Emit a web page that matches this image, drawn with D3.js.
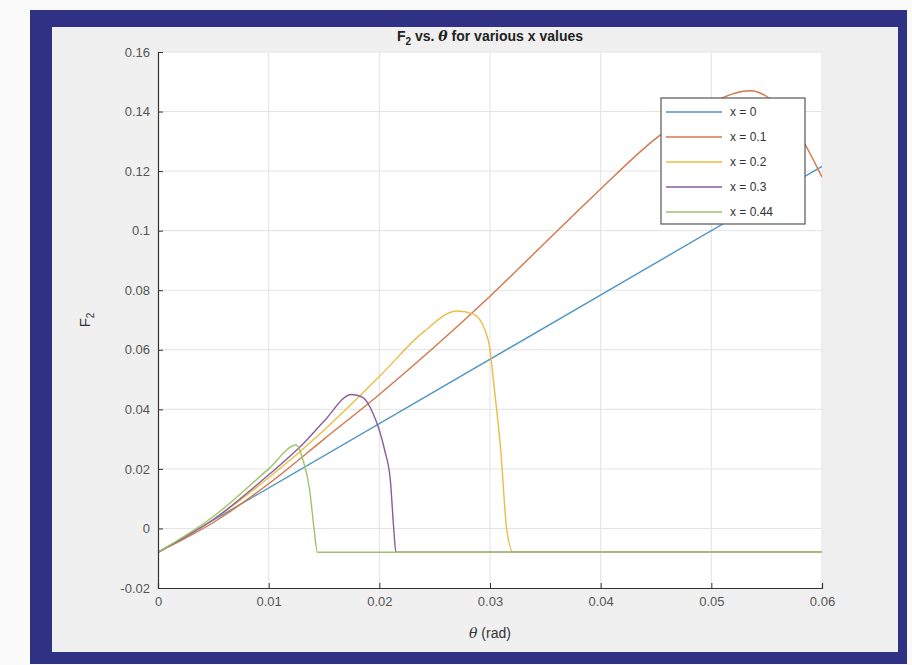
<!DOCTYPE html>
<html><head><meta charset="utf-8">
<script src="https://cdn.jsdelivr.net/npm/d3@7"></script>
<style>body{margin:0;background:#fafafa}svg{display:block;font-family:"Liberation Sans",Arial,sans-serif}</style>
</head><body><svg id="c" width="912" height="665"></svg>
<script>
// ---- data ----
const xTicks = [0, 0.01, 0.02, 0.03, 0.04, 0.05, 0.06];
const yTicks = [-0.02, 0, 0.02, 0.04, 0.06, 0.08, 0.1, 0.12, 0.14, 0.16];
const seriesNames = ["x = 0", "x = 0.1", "x = 0.2", "x = 0.3", "x = 0.44"];
const seriesColors = ["#4f95c4", "#d4764c", "#ebbd45", "#8a5c9c", "#9cc46a"];

const theta0 = [0, 0.06];
const f0 = [-0.008, 0.1216];

const theta1 = [0, 0.005, 0.01, 0.015, 0.02, 0.025, 0.03, 0.035, 0.04, 0.045, 0.05, 0.0535, 0.056, 0.058, 0.06];
const f1 = [-0.008, 0.002, 0.015, 0.030, 0.045, 0.061, 0.078, 0.096, 0.114, 0.131, 0.143, 0.147, 0.142, 0.132, 0.118];

const theta2 = [0, 0.005, 0.01, 0.015, 0.02, 0.024, 0.027, 0.0285, 0.0295, 0.03, 0.0303, 0.031, 0.0315, 0.0321, 0.06];
const f2 = [-0.008, 0.003, 0.017, 0.033, 0.051, 0.066, 0.073, 0.072, 0.067, 0.060, 0.050, 0.025, 0.0, -0.008, -0.008];

const theta3 = [0, 0.005, 0.01, 0.013, 0.015, 0.0175, 0.0185, 0.0195, 0.02, 0.0205, 0.021, 0.0213, 0.0215, 0.06];
const f3 = [-0.008, 0.003, 0.018, 0.028, 0.036, 0.045, 0.044, 0.038, 0.033, 0.026, 0.016, 0.0, -0.008, -0.008];

const theta4 = [0, 0.005, 0.01, 0.0125, 0.0131, 0.0137, 0.0141, 0.0144, 0.06];
const f4 = [-0.008, 0.004, 0.020, 0.028, 0.023, 0.013, 0.0, -0.008, -0.008];

const seriesTheta = [theta0, theta1, theta2, theta3, theta4];
const seriesF = [f0, f1, f2, f3, f4];

// ---- drawing ----
const svg = d3.select("#c");
svg.append("rect").attr("x", 30).attr("y", 10).attr("width", 877).attr("height", 654).attr("fill", "#2f3284");
svg.append("rect").attr("x", 52).attr("y", 27).attr("width", 846).attr("height", 625).attr("fill", "#f0f0f0");

const L = 158, R = 822, T = 52, B = 588;
const x = d3.scaleLinear().domain([0, 0.06]).range([L, R]);
const y = d3.scaleLinear().domain([-0.02, 0.16]).range([B, T]);

svg.append("rect").attr("x", L).attr("y", T).attr("width", R - L).attr("height", B - T).attr("fill", "#fff");

// grid
const g = svg.append("g");
g.selectAll("line.gx").data(xTicks.slice(1)).join("line")
  .attr("x1", d => x(d)).attr("x2", d => x(d)).attr("y1", T).attr("y2", B)
  .attr("stroke", "#e2e2e2").attr("stroke-width", 1);
g.selectAll("line.gy").data(yTicks.slice(1)).join("line")
  .attr("y1", d => y(d)).attr("y2", d => y(d)).attr("x1", L).attr("x2", R)
  .attr("stroke", "#e2e2e2").attr("stroke-width", 1);

svg.append("clipPath").attr("id", "clip").append("rect")
  .attr("x", L).attr("y", T).attr("width", R - L).attr("height", B - T);

const line = d3.line().x(d => x(d[0])).y(d => y(d[1])).curve(d3.curveMonotoneX);
const lg = svg.append("g").attr("clip-path", "url(#clip)");
seriesTheta.forEach((th, i) => {
  const pts = th.map((t, k) => [t, seriesF[i][k]]);
  lg.append("path").attr("d", line(pts)).attr("fill", "none")
    .attr("stroke", seriesColors[i]).attr("stroke-width", 1.4);
});

// axes
const fmt = d => (d === 0 ? "0" : String(+d.toFixed(2)));
const xa = svg.append("g").attr("transform", `translate(0,${B})`)
  .call(d3.axisBottom(x).tickValues(xTicks).tickSize(-5).tickPadding(9).tickFormat(fmt));
const ya = svg.append("g").attr("transform", `translate(${L},0)`)
  .call(d3.axisLeft(y).tickValues(yTicks).tickSize(-5).tickPadding(8).tickFormat(fmt));
[xa, ya].forEach(a => {
  a.select(".domain").attr("stroke", "#333").attr("stroke-width", 1.2);
  a.selectAll(".tick line").attr("stroke", "#333");
  a.selectAll("text").attr("fill", "#555").attr("font-size", 13).attr("font-family", "Liberation Sans, Arial, sans-serif");
});

// title
const title = svg.append("text").attr("x", 490).attr("y", 41).attr("text-anchor", "middle")
  .attr("font-size", 14).attr("font-weight", "bold").attr("fill", "#222");
title.append("tspan").text("F");
title.append("tspan").attr("font-size", 10).attr("dy", 4).text("2");
title.append("tspan").attr("dy", -4).text(" vs. ");
title.append("tspan").attr("font-style", "italic").attr("font-family", "DejaVu Serif, serif").text("θ");
title.append("tspan").text(" for various x values");

// x label
const xl = svg.append("text").attr("x", 490).attr("y", 638).attr("text-anchor", "middle")
  .attr("font-size", 14).attr("fill", "#333");
xl.append("tspan").attr("font-style", "italic").attr("font-family", "DejaVu Serif, serif").text("θ");
xl.append("tspan").text(" (rad)");

// y label
const yl = svg.append("text").attr("transform", "translate(90,320) rotate(-90)").attr("text-anchor", "middle")
  .attr("font-size", 15).attr("fill", "#333");
yl.append("tspan").text("F");
yl.append("tspan").attr("font-size", 10).attr("dy", 4).text("2");

// legend
const lgX = 661, lgY = 98, lgW = 144, lgH = 126;
svg.append("rect").attr("x", lgX).attr("y", lgY).attr("width", lgW).attr("height", lgH)
  .attr("fill", "#fff").attr("stroke", "#555").attr("stroke-width", 1.2);
seriesNames.forEach((n, i) => {
  const yy = lgY + 14 + i * 25;
  svg.append("line").attr("x1", lgX + 5).attr("x2", lgX + 61).attr("y1", yy).attr("y2", yy)
    .attr("stroke", seriesColors[i]).attr("stroke-width", 1.4);
  svg.append("text").attr("x", lgX + 69).attr("y", yy + 4).attr("font-size", 12).attr("fill", "#333").text(n);
});
</script></body></html>
